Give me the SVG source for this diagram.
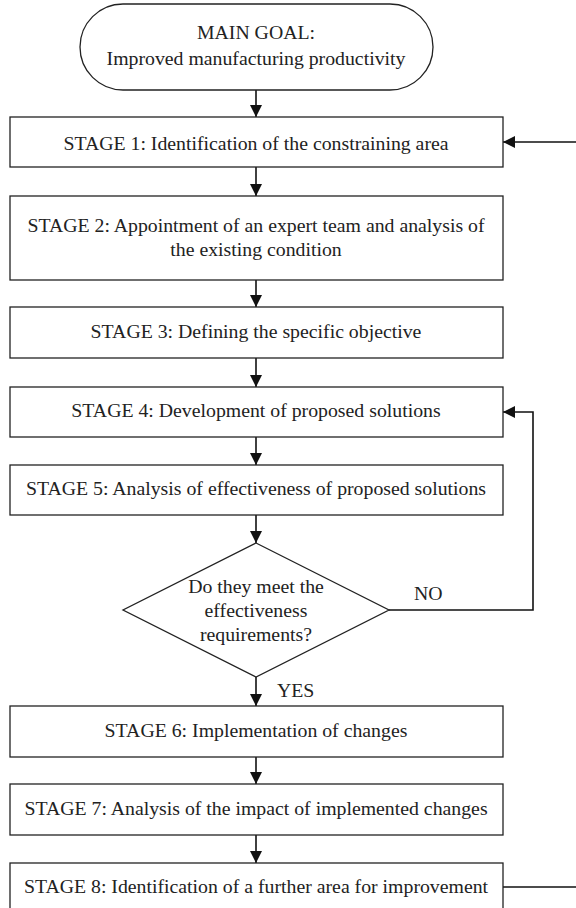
<svg xmlns="http://www.w3.org/2000/svg" width="576" height="908" viewBox="0 0 576 908">
<defs>
<marker id="ah" viewBox="0 0 12 12" refX="12" refY="6" markerWidth="12" markerHeight="12" markerUnits="userSpaceOnUse" orient="auto">
<path d="M0,0 L12,6 L0,12 Z" fill="#111"/>
</marker>
<style>
.box{fill:#fff;stroke:#222;stroke-width:1.3}
text{font-family:'Liberation Serif','Tinos','DejaVu Serif',serif;font-size:19.8px;fill:#222}
.t{text-anchor:middle}
.c{fill:none;stroke:#111;stroke-width:1.6}
</style>
</defs>
<rect width="576" height="908" fill="#fff"/>
<g id="connectors">
<line class="c" x1="256" y1="90" x2="256" y2="117" marker-end="url(#ah)"/>
<line class="c" x1="576" y1="142" x2="503" y2="142" marker-end="url(#ah)"/>
<line class="c" x1="256" y1="167" x2="256" y2="196" marker-end="url(#ah)"/>
<line class="c" x1="256" y1="280" x2="256" y2="307" marker-end="url(#ah)"/>
<line class="c" x1="256" y1="358" x2="256" y2="387" marker-end="url(#ah)"/>
<line class="c" x1="256" y1="437" x2="256" y2="465" marker-end="url(#ah)"/>
<line class="c" x1="256" y1="515" x2="256" y2="543" marker-end="url(#ah)"/>
<polyline class="c" points="389,610 533,610 533,412 503,412" marker-end="url(#ah)"/>
<line class="c" x1="256" y1="677" x2="256" y2="706" marker-end="url(#ah)"/>
<line class="c" x1="256" y1="757" x2="256" y2="784" marker-end="url(#ah)"/>
<line class="c" x1="256" y1="835" x2="256" y2="863" marker-end="url(#ah)"/>
<line class="c" x1="503" y1="887" x2="576" y2="887"/>
<text x="414" y="600">NO</text>
<text x="277" y="697">YES</text>
</g>
<g id="goal">
<rect class="box" x="80" y="4" width="353" height="86" rx="43" ry="43"/>
<text class="t" x="256" y="39">MAIN GOAL:</text>
<text class="t" x="256" y="65">Improved manufacturing productivity</text>
</g>
<g id="stage1">
<rect class="box" x="10" y="117" width="493" height="50"/>
<text class="t" x="256" y="150">STAGE 1: Identification of the constraining area</text>
</g>
<g id="stage2">
<rect class="box" x="10" y="196" width="493" height="84"/>
<text class="t" x="256" y="232">STAGE 2: Appointment of an expert team and analysis of</text>
<text class="t" x="256" y="256">the existing condition</text>
</g>
<g id="stage3">
<rect class="box" x="10" y="307" width="493" height="51"/>
<text class="t" x="256" y="338">STAGE 3: Defining the specific objective</text>
</g>
<g id="stage4">
<rect class="box" x="10" y="387" width="493" height="50"/>
<text class="t" x="256" y="417">STAGE 4: Development of proposed solutions</text>
</g>
<g id="stage5">
<rect class="box" x="10" y="465" width="493" height="50"/>
<text class="t" x="256" y="495">STAGE 5: Analysis of effectiveness of proposed solutions</text>
</g>
<g id="decision">
<polygon class="box" points="256,543 389,610 256,677 123,610"/>
<text class="t" x="256" y="593">Do they meet the</text>
<text class="t" x="256" y="617">effectiveness</text>
<text class="t" x="256" y="641">requirements?</text>
</g>
<g id="stage6">
<rect class="box" x="10" y="706" width="493" height="51"/>
<text class="t" x="256" y="737">STAGE 6: Implementation of changes</text>
</g>
<g id="stage7">
<rect class="box" x="10" y="784" width="493" height="51"/>
<text class="t" x="256" y="815">STAGE 7: Analysis of the impact of implemented changes</text>
</g>
<g id="stage8">
<rect class="box" x="10" y="863" width="493" height="60"/>
<text class="t" x="256" y="893">STAGE 8: Identification of a further area for improvement</text>
</g>
</svg>
